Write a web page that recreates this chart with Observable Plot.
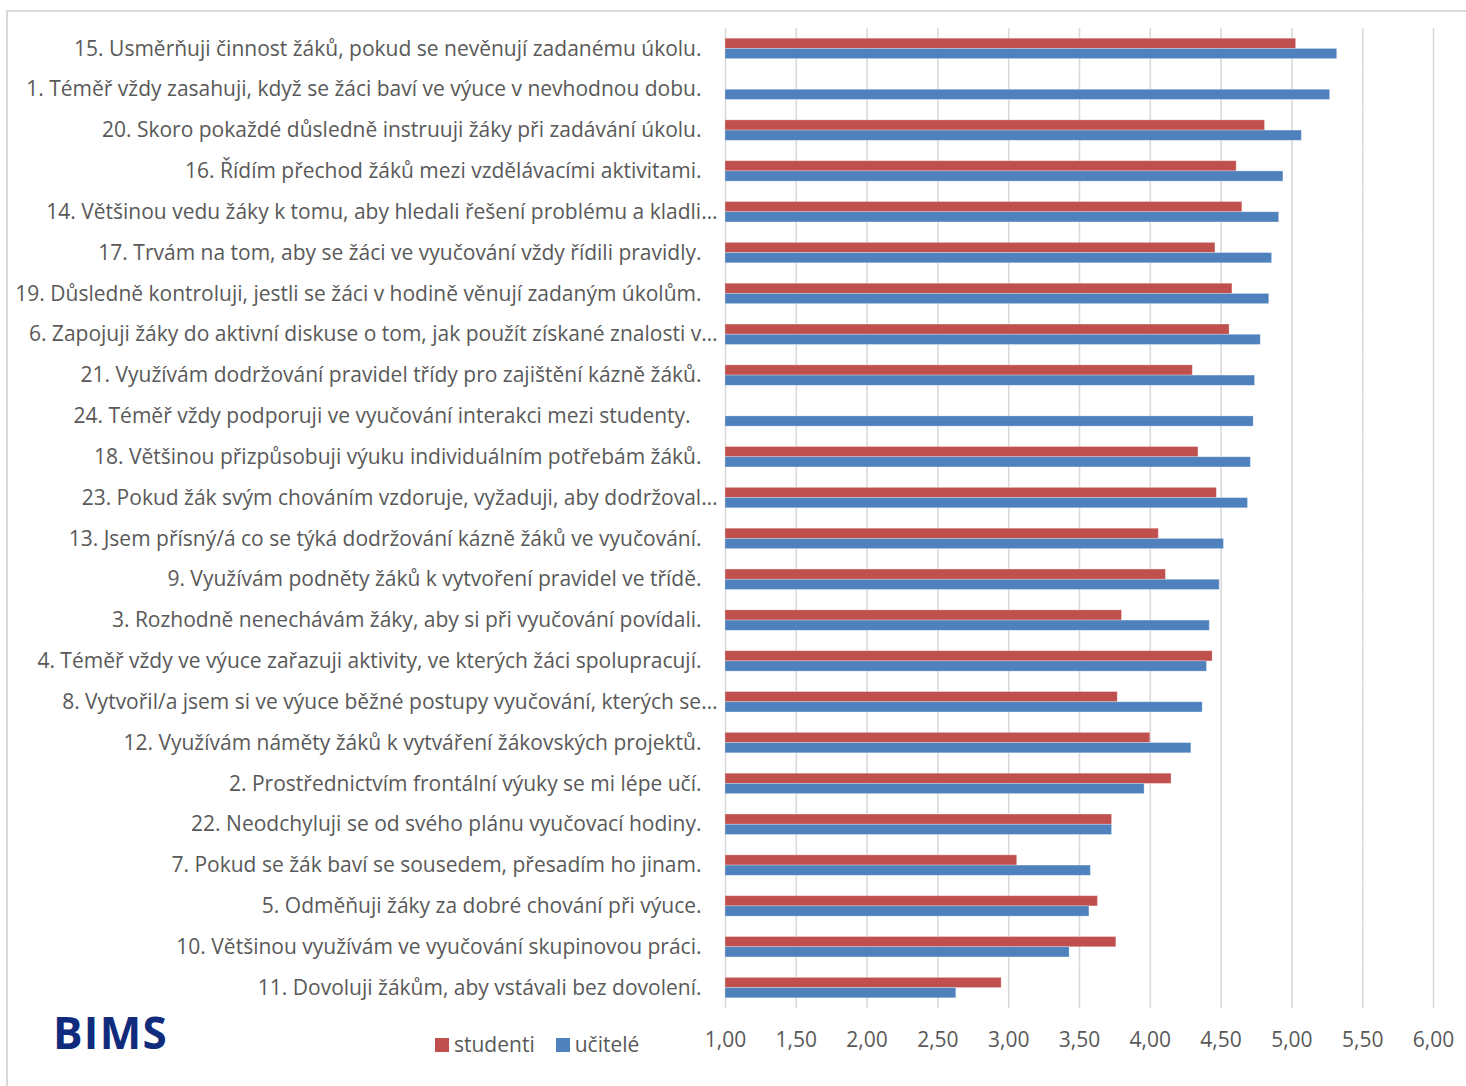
<!DOCTYPE html>
<html lang="cs">
<head>
<meta charset="utf-8">
<script src="https://cdn.jsdelivr.net/npm/d3@7"></script>
<script src="https://cdn.jsdelivr.net/npm/@observablehq/plot@0.6"></script>
<style>
  html, body { margin: 0; padding: 0; background: #fff; overflow: hidden; }
  #page { position: relative; width: 1466px; height: 1086px; overflow: hidden; }
  #chart svg { display: block; }
  #frame {
    position: absolute; left: 6px; top: 10px; width: 1520px; height: 1140px;
    border: 2px solid #d9d9d9; box-sizing: border-box; pointer-events: none;
  }
  #logo {
    position: absolute; left: 53px; top: 1010px;
    font: bold 44px/1 "Open Sans", sans-serif; color: #112b7c; letter-spacing: 1.3px;
  }
  #legend {
    position: absolute; left: 435px; top: 1034px;
    font: 21px/1 "Open Sans", sans-serif; color: #595959;
    display: flex; align-items: center;
  }
  #legend .item { display: flex; align-items: center; margin-right: 21px; }
  #legend .sw { width: 14px; height: 14px; margin-right: 5px; }
</style>
</head>
<body>
<div id="page">
  <div id="chart"></div>
  <div id="logo">BIMS</div>
  <div id="legend"></div>
  <div id="frame"></div>
</div>
<script>
// Statements, ordered by the teachers' mean score (top to bottom)
const questions = [
  "15. Usměrňuji činnost žáků, pokud se nevěnují zadanému úkolu.",
  "1. Téměř vždy zasahuji, když se žáci baví ve výuce v nevhodnou dobu.",
  "20. Skoro pokaždé důsledně instruuji žáky při zadávání úkolu.",
  "16. Řídím přechod žáků mezi vzdělávacími aktivitami.",
  "14. Většinou vedu žáky k tomu, aby hledali řešení problému a kladli…",
  "17. Trvám na tom, aby se žáci ve vyučování vždy řídili pravidly.",
  "19. Důsledně kontroluji, jestli se žáci v hodině věnují zadaným úkolům.",
  "6. Zapojuji žáky do aktivní diskuse o tom, jak použít získané znalosti v…",
  "21. Využívám dodržování pravidel třídy pro zajištění kázně žáků.",
  "24. Téměř vždy podporuji ve vyučování interakci mezi studenty.\u00a0\u00a0",
  "18. Většinou přizpůsobuji výuku individuálním potřebám žáků.",
  "23. Pokud žák svým chováním vzdoruje, vyžaduji, aby dodržoval…",
  "13. Jsem přísný/á co se týká dodržování kázně žáků ve vyučování.",
  "9. Využívám podněty žáků k vytvoření pravidel ve třídě.",
  "3. Rozhodně nenechávám žáky, aby si při vyučování povídali.",
  "4. Téměř vždy ve výuce zařazuji aktivity, ve kterých žáci spolupracují.",
  "8. Vytvořil/a jsem si ve výuce běžné postupy vyučování, kterých se…",
  "12. Využívám náměty žáků k vytváření žákovských projektů.",
  "2. Prostřednictvím frontální výuky se mi lépe učí.",
  "22. Neodchyluji se od svého plánu vyučovací hodiny.",
  "7. Pokud se žák baví se sousedem, přesadím ho jinam.",
  "5. Odměňuji žáky za dobré chování při výuce.",
  "10. Většinou využívám ve vyučování skupinovou práci.",
  "11. Dovoluji žákům, aby vstávali bez dovolení."
];

// Mean scores (null = statement not asked of students)
const studenti = [5.03, null, 4.81, 4.61, 4.65, 4.46, 4.58, 4.56, 4.30, null, 4.34, 4.47,
                  4.06, 4.11, 3.80, 4.44, 3.77, 4.00, 4.15, 3.73, 3.06, 3.63, 3.76, 2.95];
const ucitele  = [5.32, 5.27, 5.07, 4.94, 4.91, 4.86, 4.84, 4.78, 4.74, 4.73, 4.71, 4.69,
                  4.52, 4.49, 4.42, 4.40, 4.37, 4.29, 3.96, 3.73, 3.58, 3.57, 3.43, 2.63];

const seriesNames  = ["studenti", "učitelé"];
const seriesColors = ["#c0504d", "#4f81bd"];

const scaleMin = 1;
const scaleMax = 6;
const xTicks = [1, 1.5, 2, 2.5, 3, 3.5, 4, 4.5, 5, 5.5, 6];

// Long format: one row per statement and group
const rows = questions.flatMap((q, i) => [
  {q, s: seriesNames[0], v: studenti[i]},
  {q, s: seriesNames[1], v: ucitele[i]}
]);

const fmt = d => d.toFixed(2).replace(".", ",");
const cut = q => q.endsWith("…");

const labelStyle = {
  fy: d => d, text: d => d, frameAnchor: "left", textAnchor: "end",
  fill: "#595959", fontSize: 21, fontFamily: "Open Sans"
};

const chart = Plot.plot({
  width: 1466,
  height: 1086,
  marginLeft: 725,
  marginRight: 33,
  marginTop: 28,
  marginBottom: 78,
  style: {fontFamily: "Open Sans", fontSize: "21px", color: "#595959", background: "transparent"},
  x: {domain: [scaleMin, scaleMax], ticks: xTicks, tickFormat: fmt, tickSize: 0, tickPadding: 24, label: null},
  y: {domain: seriesNames, paddingInner: 0, paddingOuter: 1, round: false, axis: null},
  fy: {domain: questions, padding: 0, round: false, axis: null},
  color: {domain: seriesNames, range: seriesColors},
  marks: [
    Plot.gridX(xTicks, {stroke: "#d9d9d9", strokeOpacity: 1, strokeWidth: 1.6}),
    Plot.barX(rows, {
      fy: "q", y: "s", x1: scaleMin, x2: "v", fill: "s",
      stroke: "#ffffff", strokeOpacity: 0.35, strokeWidth: 0.8
    }),
    Plot.text(questions.filter(q => !cut(q)), {...labelStyle, dx: -24}),
    Plot.text(questions.filter(cut), {...labelStyle, dx: -8})
  ]
});
document.getElementById("chart").appendChild(chart);

// Legend below the bars
const legend = document.getElementById("legend");
seriesNames.forEach((name, i) => {
  const item = document.createElement("div");
  item.className = "item";
  const sw = document.createElement("span");
  sw.className = "sw";
  sw.style.background = seriesColors[i];
  const label = document.createElement("span");
  label.textContent = name;
  item.append(sw, label);
  legend.appendChild(item);
});
</script>
</body>
</html>
